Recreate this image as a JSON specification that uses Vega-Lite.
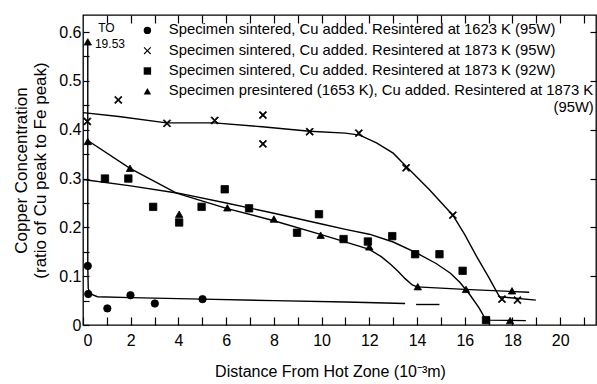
{
  "$schema": "https://vega.github.io/schema/vega-lite/v6.json",
  "autosize": "none",
  "width": 513,
  "height": 310,
  "padding": {"left": 83, "top": 15, "right": 1, "bottom": 59},
  "background": "white",
  "config": {
    "view": {"stroke": "black", "strokeWidth": 1.3},
    "font": "Liberation Sans",
    "axis": {"domain": false, "grid": false, "labelFont": "Liberation Sans", "titleFont": "Liberation Sans", "labelColor": "black", "titleColor": "black", "tickColor": "black", "titleFontWeight": "normal"}
  },
  "datasets": {
    "pts": [
      {"series": "Specimen sintered, Cu added. Resintered at 1623 K (95W)", "x": 0.2, "y": 0.121},
      {"series": "Specimen sintered, Cu added. Resintered at 1623 K (95W)", "x": 0.22, "y": 0.0635},
      {"series": "Specimen sintered, Cu added. Resintered at 1623 K (95W)", "x": 1.02, "y": 0.034},
      {"series": "Specimen sintered, Cu added. Resintered at 1623 K (95W)", "x": 1.99, "y": 0.061},
      {"series": "Specimen sintered, Cu added. Resintered at 1623 K (95W)", "x": 3.01, "y": 0.044},
      {"series": "Specimen sintered, Cu added. Resintered at 1623 K (95W)", "x": 5.01, "y": 0.053},
      {"series": "Specimen sintered, Cu added. Resintered at 1873 K (95W)", "x": 0.18, "y": 0.417},
      {"series": "Specimen sintered, Cu added. Resintered at 1873 K (95W)", "x": 1.48, "y": 0.461},
      {"series": "Specimen sintered, Cu added. Resintered at 1873 K (95W)", "x": 3.52, "y": 0.413},
      {"series": "Specimen sintered, Cu added. Resintered at 1873 K (95W)", "x": 5.52, "y": 0.419},
      {"series": "Specimen sintered, Cu added. Resintered at 1873 K (95W)", "x": 7.54, "y": 0.43},
      {"series": "Specimen sintered, Cu added. Resintered at 1873 K (95W)", "x": 7.54, "y": 0.371},
      {"series": "Specimen sintered, Cu added. Resintered at 1873 K (95W)", "x": 9.5, "y": 0.396},
      {"series": "Specimen sintered, Cu added. Resintered at 1873 K (95W)", "x": 11.56, "y": 0.393},
      {"series": "Specimen sintered, Cu added. Resintered at 1873 K (95W)", "x": 13.54, "y": 0.322},
      {"series": "Specimen sintered, Cu added. Resintered at 1873 K (95W)", "x": 15.5, "y": 0.225},
      {"series": "Specimen sintered, Cu added. Resintered at 1873 K (95W)", "x": 17.56, "y": 0.053},
      {"series": "Specimen sintered, Cu added. Resintered at 1873 K (95W)", "x": 18.21, "y": 0.051},
      {"series": "Specimen sintered, Cu added. Resintered at 1873 K (92W)", "x": 0.92, "y": 0.30},
      {"series": "Specimen sintered, Cu added. Resintered at 1873 K (92W)", "x": 1.9, "y": 0.30},
      {"series": "Specimen sintered, Cu added. Resintered at 1873 K (92W)", "x": 2.94, "y": 0.242},
      {"series": "Specimen sintered, Cu added. Resintered at 1873 K (92W)", "x": 4.03, "y": 0.21},
      {"series": "Specimen sintered, Cu added. Resintered at 1873 K (92W)", "x": 4.97, "y": 0.242},
      {"series": "Specimen sintered, Cu added. Resintered at 1873 K (92W)", "x": 5.94, "y": 0.278},
      {"series": "Specimen sintered, Cu added. Resintered at 1873 K (92W)", "x": 6.96, "y": 0.239},
      {"series": "Specimen sintered, Cu added. Resintered at 1873 K (92W)", "x": 8.97, "y": 0.189},
      {"series": "Specimen sintered, Cu added. Resintered at 1873 K (92W)", "x": 9.89, "y": 0.227},
      {"series": "Specimen sintered, Cu added. Resintered at 1873 K (92W)", "x": 10.92, "y": 0.176},
      {"series": "Specimen sintered, Cu added. Resintered at 1873 K (92W)", "x": 11.94, "y": 0.171},
      {"series": "Specimen sintered, Cu added. Resintered at 1873 K (92W)", "x": 12.96, "y": 0.182},
      {"series": "Specimen sintered, Cu added. Resintered at 1873 K (92W)", "x": 13.92, "y": 0.145},
      {"series": "Specimen sintered, Cu added. Resintered at 1873 K (92W)", "x": 14.94, "y": 0.145},
      {"series": "Specimen sintered, Cu added. Resintered at 1873 K (92W)", "x": 15.91, "y": 0.111},
      {"series": "Specimen sintered, Cu added. Resintered at 1873 K (92W)", "x": 16.89, "y": 0.010},
      {"series": "Specimen presintered (1653 K), Cu added. Resintered at 1873 K (95W)", "x": 0.2, "y": 0.58},
      {"series": "Specimen presintered (1653 K), Cu added. Resintered at 1873 K (95W)", "x": 0.2, "y": 0.376},
      {"series": "Specimen presintered (1653 K), Cu added. Resintered at 1873 K (95W)", "x": 1.97, "y": 0.321},
      {"series": "Specimen presintered (1653 K), Cu added. Resintered at 1873 K (95W)", "x": 4.03, "y": 0.227},
      {"series": "Specimen presintered (1653 K), Cu added. Resintered at 1873 K (95W)", "x": 6.05, "y": 0.240},
      {"series": "Specimen presintered (1653 K), Cu added. Resintered at 1873 K (95W)", "x": 8.0, "y": 0.217},
      {"series": "Specimen presintered (1653 K), Cu added. Resintered at 1873 K (95W)", "x": 9.96, "y": 0.184},
      {"series": "Specimen presintered (1653 K), Cu added. Resintered at 1873 K (95W)", "x": 12.0, "y": 0.160},
      {"series": "Specimen presintered (1653 K), Cu added. Resintered at 1873 K (95W)", "x": 14.03, "y": 0.0785},
      {"series": "Specimen presintered (1653 K), Cu added. Resintered at 1873 K (95W)", "x": 16.05, "y": 0.073},
      {"series": "Specimen presintered (1653 K), Cu added. Resintered at 1873 K (95W)", "x": 17.98, "y": 0.070},
      {"series": "Specimen presintered (1653 K), Cu added. Resintered at 1873 K (95W)", "x": 17.9, "y": 0.009}
    ],
    "lines": [
      {"seg": "A1", "seq": 1, "x": 0.2, "y": 0.58},
      {"seg": "A1", "seq": 2, "x": 0.2, "y": 0.12},
      {"seg": "A1", "seq": 3, "x": 0.22, "y": 0.075},
      {"seg": "A1", "seq": 4, "x": 0.3, "y": 0.064},
      {"seg": "A1", "seq": 5, "x": 0.6, "y": 0.058},
      {"seg": "A1", "seq": 6, "x": 2, "y": 0.056},
      {"seg": "A1", "seq": 7, "x": 5, "y": 0.053},
      {"seg": "A1", "seq": 8, "x": 8, "y": 0.05},
      {"seg": "A1", "seq": 9, "x": 11, "y": 0.047},
      {"seg": "A1", "seq": 10, "x": 13.5, "y": 0.044},
      {"seg": "A2", "seq": 1, "x": 13.96, "y": 0.042},
      {"seg": "A2", "seq": 2, "x": 14.94, "y": 0.042},
      {"seg": "B", "seq": 1, "x": 0.0, "y": 0.435},
      {"seg": "B", "seq": 2, "x": 1.5, "y": 0.427},
      {"seg": "B", "seq": 3, "x": 3.5, "y": 0.414},
      {"seg": "B", "seq": 4, "x": 5.5, "y": 0.414},
      {"seg": "B", "seq": 5, "x": 7.5, "y": 0.406},
      {"seg": "B", "seq": 6, "x": 9.5, "y": 0.397},
      {"seg": "B", "seq": 7, "x": 11.0, "y": 0.393},
      {"seg": "B", "seq": 8, "x": 11.6, "y": 0.389},
      {"seg": "B", "seq": 9, "x": 12.3, "y": 0.373},
      {"seg": "B", "seq": 10, "x": 13.0, "y": 0.352},
      {"seg": "B", "seq": 11, "x": 13.54, "y": 0.325},
      {"seg": "B", "seq": 12, "x": 14.5, "y": 0.278},
      {"seg": "B", "seq": 13, "x": 15.5, "y": 0.225},
      {"seg": "B", "seq": 14, "x": 16.0, "y": 0.185},
      {"seg": "B", "seq": 15, "x": 16.5, "y": 0.140},
      {"seg": "B", "seq": 16, "x": 17.0, "y": 0.098},
      {"seg": "B", "seq": 17, "x": 17.45, "y": 0.058},
      {"seg": "B", "seq": 18, "x": 18.98, "y": 0.051},
      {"seg": "C", "seq": 1, "x": 0.0, "y": 0.298},
      {"seg": "C", "seq": 2, "x": 2, "y": 0.285},
      {"seg": "C", "seq": 3, "x": 4, "y": 0.270},
      {"seg": "C", "seq": 4, "x": 6, "y": 0.250},
      {"seg": "C", "seq": 5, "x": 8, "y": 0.229},
      {"seg": "C", "seq": 6, "x": 10, "y": 0.207},
      {"seg": "C", "seq": 7, "x": 11, "y": 0.196},
      {"seg": "C", "seq": 8, "x": 12, "y": 0.186},
      {"seg": "C", "seq": 9, "x": 13, "y": 0.170},
      {"seg": "C", "seq": 10, "x": 14, "y": 0.147},
      {"seg": "C", "seq": 11, "x": 14.8, "y": 0.126},
      {"seg": "C", "seq": 12, "x": 15.4, "y": 0.106},
      {"seg": "C", "seq": 13, "x": 15.8, "y": 0.087},
      {"seg": "C", "seq": 14, "x": 16.2, "y": 0.063},
      {"seg": "C", "seq": 15, "x": 16.6, "y": 0.035},
      {"seg": "C", "seq": 16, "x": 16.89, "y": 0.010},
      {"seg": "C", "seq": 17, "x": 18.56, "y": 0.009},
      {"seg": "D", "seq": 1, "x": 0.2, "y": 0.378},
      {"seg": "D", "seq": 2, "x": 1.97, "y": 0.321},
      {"seg": "D", "seq": 3, "x": 3.92, "y": 0.270},
      {"seg": "D", "seq": 4, "x": 6.01, "y": 0.239},
      {"seg": "D", "seq": 5, "x": 7.96, "y": 0.214},
      {"seg": "D", "seq": 6, "x": 9.92, "y": 0.186},
      {"seg": "D", "seq": 7, "x": 11.6, "y": 0.161},
      {"seg": "D", "seq": 8, "x": 12.0, "y": 0.155},
      {"seg": "D", "seq": 9, "x": 12.5, "y": 0.140},
      {"seg": "D", "seq": 10, "x": 12.9, "y": 0.124},
      {"seg": "D", "seq": 11, "x": 13.2, "y": 0.110},
      {"seg": "D", "seq": 12, "x": 13.5, "y": 0.095},
      {"seg": "D", "seq": 13, "x": 13.8, "y": 0.082},
      {"seg": "D", "seq": 14, "x": 14.0, "y": 0.078},
      {"seg": "D", "seq": 15, "x": 16.0, "y": 0.073},
      {"seg": "D", "seq": 16, "x": 18.7, "y": 0.067}
    ],
    "notes": [
      {"x": 0.98, "y": 0.608, "note": "TO"},
      {"x": 1.13, "y": 0.575, "note": "19.53"}
    ]
  },
  "encoding": {
    "x": {"field": "x", "type": "quantitative", "scale": {"domain": [0, 21.5], "nice": false, "zero": false}},
    "y": {"field": "y", "type": "quantitative", "scale": {"domain": [0, 0.635], "nice": false, "zero": false}}
  },
  "layer": [
    {
      "data": {"name": "lines"},
      "mark": {"type": "line", "color": "black", "strokeWidth": 1.4, "clip": true},
      "encoding": {
        "x": {"field": "x", "type": "quantitative", "axis": {"orient": "bottom", "values": [0,1,2,3,4,5,6,7,8,9,10,11,12,13,14,15,16,17,18,19,20,21], "labelExpr": "datum.value % 2 == 0 ? datum.label : ''", "tickSize": -8, "tickWidth": 1.2, "labelFontSize": 16, "labelPadding": 15, "title": "Distance From Hot Zone (10\u207b\u00b3m)", "titleFontSize": 16, "titlePadding": 15, "titleX": 247}},
        "y": {"field": "y", "type": "quantitative", "axis": {"orient": "left", "values": [0, 0.05, 0.1, 0.15, 0.2, 0.25, 0.3, 0.35, 0.4, 0.45, 0.5, 0.55, 0.6], "labelExpr": "abs(datum.value*10 - round(datum.value*10)) < 0.01 ? (datum.value == 0 ? '0' : format(datum.value, '.1f')) : ''", "tickSize": -6, "tickWidth": 1.2, "labelFontSize": 16, "labelPadding": 8, "title": ["Copper Concentration", "(ratio of Cu peak to Fe peak)"], "titleFontSize": 17, "titleLineHeight": 19, "titlePadding": 9}},
        "detail": {"field": "seg"},
        "order": {"field": "seq", "type": "quantitative"}
      }
    },
    {
      "data": {"name": "pts"},
      "mark": {"type": "point", "filled": true, "color": "black", "stroke": "black", "strokeWidth": 0.8, "size": 55, "opacity": 1},
      "encoding": {
        "x": {"field": "x", "type": "quantitative", "axis": {"orient": "top", "values": [1,2,3,4,5,6,7,8,9,10,11,12,13,14,15,16,17,18,19,20,21], "labels": false, "tickSize": -8, "tickWidth": 1.2, "title": null}},
        "y": {"field": "y", "type": "quantitative", "axis": {"orient": "right", "values": [0.1, 0.2, 0.3, 0.4, 0.5, 0.6], "labels": false, "tickSize": -6, "tickWidth": 1.2, "title": null}},
        "shape": {
          "field": "series", "type": "nominal",
          "scale": {
            "domain": ["Specimen sintered, Cu added. Resintered at 1623 K (95W)", "Specimen sintered, Cu added. Resintered at 1873 K (95W)", "Specimen sintered, Cu added. Resintered at 1873 K (92W)", "Specimen presintered (1653 K), Cu added. Resintered at 1873 K (95W)"],
            "range": ["circle", "M-1,-0.78L-0.78,-1L0,-0.22L0.78,-1L1,-0.78L0.22,0L1,0.78L0.78,1L0,0.22L-0.78,1L-1,0.78L-0.22,0Z", "square", "triangle-up"]
          },
          "legend": {
            "title": null, "orient": "none", "legendX": 57, "legendY": 8, "padding": 0,
            "labelFont": "Liberation Sans", "labelFontSize": 14.8, "labelColor": "black", "labelLimit": 650, "labelOffset": 14,
            "symbolSize": 55, "symbolStrokeWidth": 0.8, "symbolFillColor": "black", "symbolStrokeColor": "black", "symbolOpacity": 1,
            "rowPadding": 4.3,
            "labelExpr": "datum.value == 'Specimen presintered (1653 K), Cu added. Resintered at 1873 K (95W)' ? ['Specimen presintered (1653 K), Cu added. Resintered at 1873 K', '\u200b\u2003\u2003\u2003\u2003\u2003\u2003\u2003\u2003\u2003\u2003\u2003\u2003\u2003\u2003\u2003\u2003\u2003\u2003\u2003\u2003\u2003\u2003\u2003\u2003\u2003\u2003(95W)'] : datum.label"
          }
        }
      }
    },
    {
      "data": {"name": "notes"},
      "mark": {"type": "text", "font": "Liberation Sans", "fontSize": 12, "color": "black", "align": "center", "baseline": "middle"},
      "encoding": {
        "text": {"field": "note"},
        "x": {"field": "x", "type": "quantitative", "axis": null},
        "y": {"field": "y", "type": "quantitative", "axis": null}
      }
    }
  ],
  "resolve": {"axis": {"x": "independent", "y": "independent"}}
}
